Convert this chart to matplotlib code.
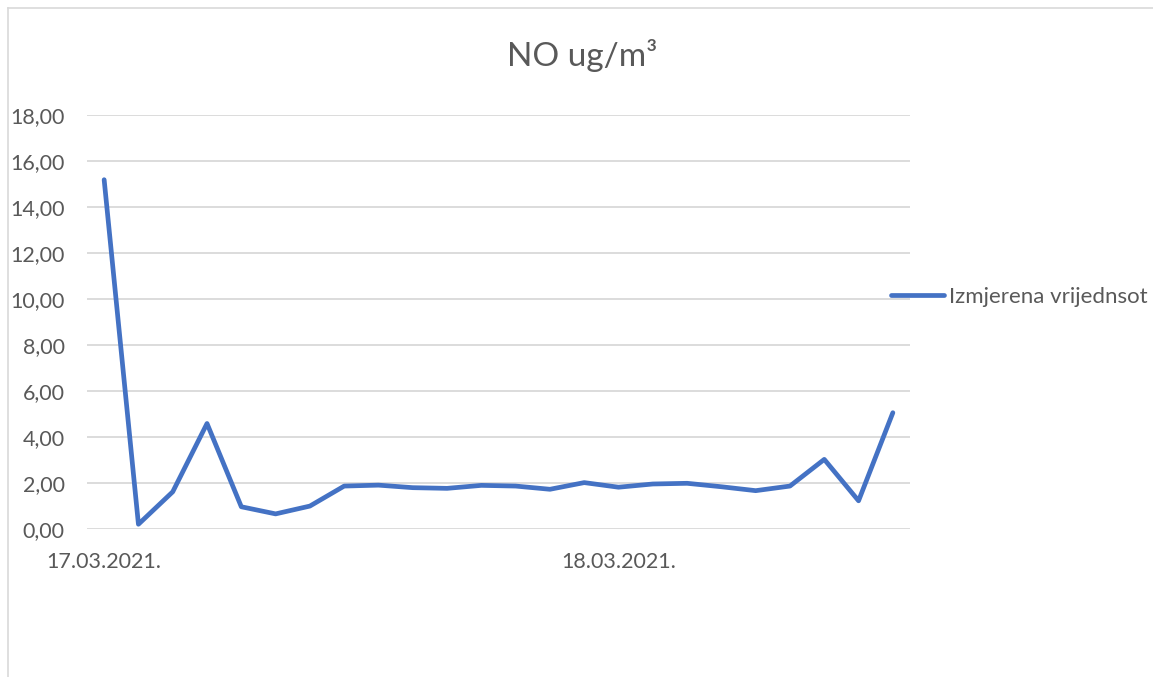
import matplotlib
matplotlib.use("Agg")
import matplotlib.pyplot as plt
from matplotlib.lines import Line2D

# hourly NO readings, 17.03.2021. -> 18.03.2021.
values = [15.20, 0.22, 1.63, 4.60, 0.98, 0.67, 1.01, 1.88, 1.92, 1.81,
          1.78, 1.91, 1.88, 1.74, 2.03, 1.83, 1.97, 2.00, 1.85, 1.68,
          1.88, 3.04, 1.24, 5.07]
date_labels = {0: "17.03.2021.", 15: "18.03.2021."}
y_ticks = [0, 2, 4, 6, 8, 10, 12, 14, 16, 18]
series_name = "Izmjerena vrijednsot"
title = "NO ug/m³"

plt.rcParams['font.family'] = ['Lato', 'DejaVu Sans']
text_col = '#595959'
grid_col = '#D9D9D9'
line_col = '#4472C4'

fig = plt.figure(figsize=(11.53, 6.77), dpi=100)
ax = fig.add_axes([87 / 1153, 1 - 529.3 / 677, 823 / 1153, 414 / 677])

x = list(range(len(values)))
line, = ax.plot(x, values, color=line_col, lw=3.4, solid_joinstyle='round',
                solid_capstyle='round', label=series_name)

ax.set_xlim(-0.5, len(values) - 0.5)
ax.set_ylim(0, 18)
ax.set_yticks(y_ticks)
ax.set_yticklabels([f"{v:.2f}".replace('.', ',') for v in y_ticks])
ax.set_xticks(list(date_labels.keys()))
ax.set_xticklabels(list(date_labels.values()))
ax.tick_params(length=0, labelsize=15.5, colors=text_col)
ax.tick_params(axis='y', pad=16)
ax.tick_params(axis='x', pad=16)
ax.grid(axis='y', color=grid_col, lw=1.3)
ax.set_axisbelow(True)
for s in ax.spines.values():
    s.set_visible(False)

leg = fig.legend(handles=[line], loc='center left',
                 bbox_to_anchor=(871 / 1153, 1 - 297 / 677), frameon=False,
                 fontsize=16, handlelength=2.4, handletextpad=0.2,
                 labelcolor=text_col)

fig.text(582 / 1153, 1 - 55 / 677, title, ha='center', va='center',
         fontsize=24, color=text_col)

# chart area border (top and left edges visible)
fig.add_artist(Line2D([8 / 1153, 8 / 1153], [0, 1 - 8 / 677],
                      transform=fig.transFigure, color=grid_col, lw=1.2))
fig.add_artist(Line2D([8 / 1153, 1], [1 - 8 / 677, 1 - 8 / 677],
                      transform=fig.transFigure, color=grid_col, lw=1.2))

fig.savefig("out.png", dpi=100, facecolor='white')
